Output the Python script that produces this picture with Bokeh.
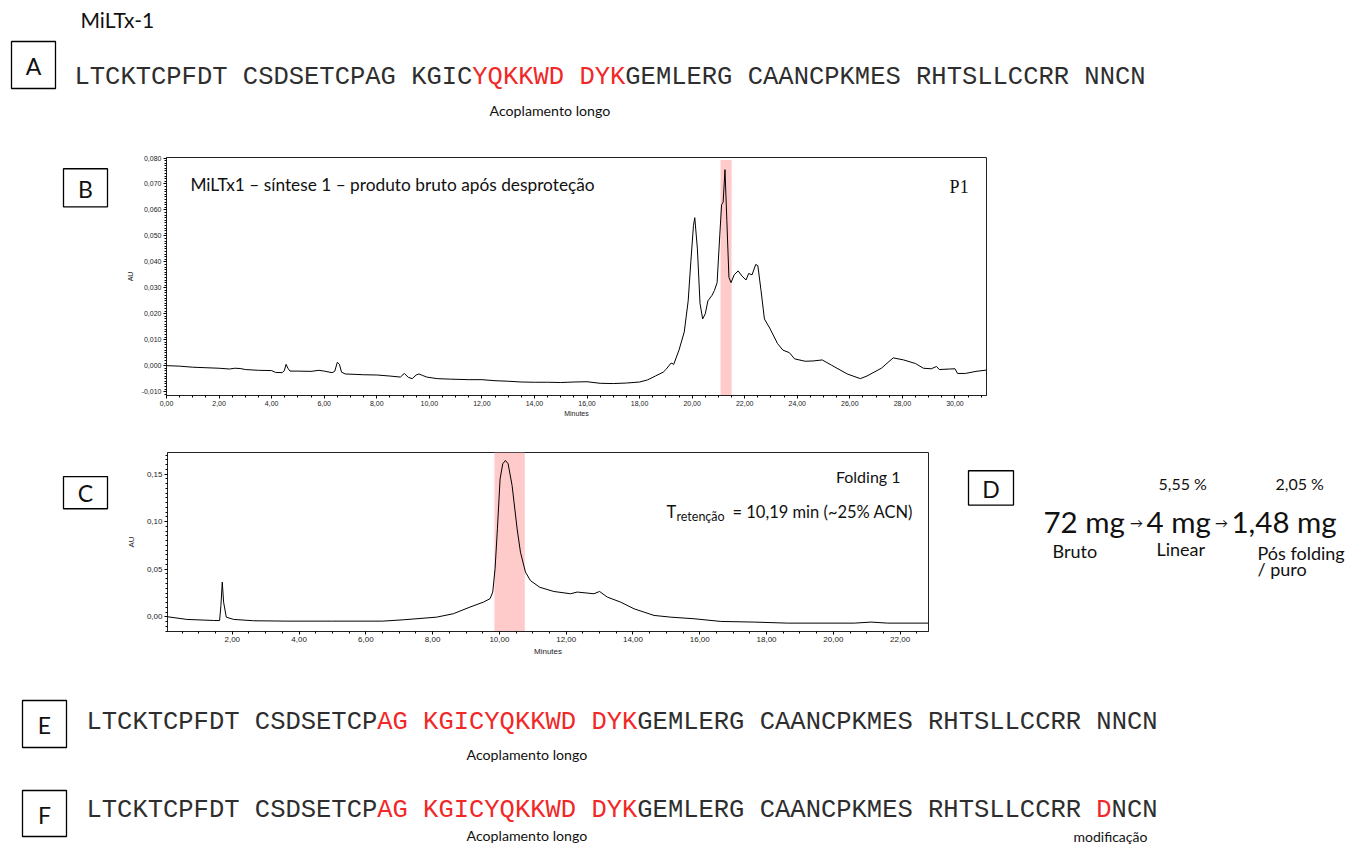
from bokeh.plotting import figure
from bokeh.layouts import column, row
from bokeh.models import (Range1d, BoxAnnotation, Label, FixedTicker,
                          CustomJSTickFormatter)
from bokeh.embed import file_html
from bokeh.resources import INLINE
from bokeh.core.properties import value
import numpy as np

# ---------------------------------------------------------------- data
seq_native = "LTCKTCPFDT CSDSETCPAG KGICYQKKWD DYKGEMLERG CAANCPKMES RHTSLLCCRR NNCN"
seq_modified = "LTCKTCPFDT CSDSETCPAG KGICYQKKWD DYKGEMLERG CAANCPKMES RHTSLLCCRR DNCN"
red_spans_A = [(26, 36)]
red_spans_E = [(19, 36)]
red_spans_F = [(19, 36), (66, 67)]

# crude product after deprotection (minutes, AU)
b_time = [0.0, 0.5, 1.0, 1.5, 2.0, 2.4, 2.6, 2.8, 3.0, 3.5, 4.0, 4.15, 4.4, 4.48,
          4.55, 4.62, 4.7, 5.0, 5.5, 5.8, 6.0, 6.3, 6.4, 6.5, 6.58, 6.66, 6.8,
          7.5, 8.0, 8.5, 8.9, 9.05, 9.2, 9.35, 9.5, 9.6, 9.75, 9.9, 10.3, 10.8,
          11.5, 12.0, 12.5, 13.0, 13.5, 14.0, 14.5, 15.0, 15.5, 16.0, 16.5, 17.0,
          17.5, 18.0, 18.3, 18.6, 18.9, 19.0, 19.2, 19.3, 19.5, 19.7, 19.85,
          19.95, 20.05, 20.1, 20.2, 20.3, 20.4, 20.5, 20.6, 20.75, 20.85, 20.95,
          21.05, 21.12, 21.18, 21.25, 21.32, 21.4, 21.48, 21.6, 21.75, 21.9,
          22.05, 22.15, 22.28, 22.42, 22.5, 22.62, 22.75, 22.95, 23.25, 23.45,
          23.7, 23.9, 24.3, 24.6, 24.95, 25.3, 25.9, 26.4, 26.65, 27.2, 27.65,
          28.05, 28.5, 28.8, 29.1, 29.3, 29.4, 29.8, 30.0, 30.1, 30.4, 30.8, 31.2]
b_au = [0.0000, -0.0002, -0.0006, -0.0008, -0.0010, -0.0013, -0.0010, -0.0011,
        -0.0015, -0.0018, -0.0019, -0.0026, -0.0027, -0.0020, 0.0005, -0.0010,
        -0.0021, -0.0021, -0.0022, -0.0018, -0.0021, -0.0027, -0.0022, 0.0013,
        0.0005, -0.0025, -0.0032, -0.0035, -0.0036, -0.0040, -0.0044, -0.0030,
        -0.0045, -0.0050, -0.0036, -0.0032, -0.0038, -0.0044, -0.0050, -0.0052,
        -0.0054, -0.0054, -0.0058, -0.0060, -0.0063, -0.0064, -0.0064, -0.0065,
        -0.0063, -0.0062, -0.0068, -0.0069, -0.0067, -0.0063, -0.0055, -0.0040,
        -0.0025, -0.0015, 0.0010, 0.0005, 0.0060, 0.0130, 0.0250, 0.0400, 0.0540,
        0.0570, 0.0450, 0.0240, 0.0180, 0.0200, 0.0250, 0.0270, 0.0290, 0.0320,
        0.0500, 0.0620, 0.0630, 0.0755, 0.0560, 0.0340, 0.0320, 0.0350, 0.0365,
        0.0345, 0.0330, 0.0355, 0.0350, 0.0390, 0.0385, 0.0290, 0.0180, 0.0145,
        0.0085, 0.0060, 0.0050, 0.0026, 0.0017, 0.0018, 0.0022, 0.0002, -0.0032,
        -0.0050, -0.0040, -0.0010, 0.0030, 0.0022, 0.0008, -0.0010, -0.0012,
        -0.0003, -0.0015, -0.0013, -0.0012, -0.0030, -0.0030, -0.0022, -0.0017]
b_band = (21.08, 21.50)

# folded product (minutes, AU)
c_time = [0.06, 0.64, 1.44, 1.62, 1.66, 1.70, 1.74, 1.82, 2.04, 2.64, 3.64, 5.0,
          6.5, 7.12, 8.12, 8.62, 9.12, 9.52, 9.72, 9.80, 9.87, 9.94, 10.02,
          10.10, 10.18, 10.26, 10.38, 10.53, 10.63, 10.78, 10.93, 11.21, 11.63,
          12.13, 12.33, 12.83, 13.0, 13.23, 13.63, 14.03, 14.63, 15.13, 15.83,
          16.63, 17.63, 18.63, 20.63, 21.13, 21.63, 22.85]
c_au = [0.0000, -0.0028, -0.0039, -0.0040, 0.0119, 0.0365, 0.0154, -0.0004,
        -0.0028, -0.0042, -0.0046, -0.0046, -0.0046, -0.0032, -0.0004, 0.0032,
        0.0102, 0.0154, 0.0190, 0.0260, 0.0505, 0.0925, 0.1450, 0.1609, 0.1644,
        0.1610, 0.1380, 0.0925, 0.0680, 0.0470, 0.0380, 0.0310, 0.0266, 0.0242,
        0.0260, 0.0242, 0.0266, 0.0207, 0.0154, 0.0084, 0.0014, -0.0004,
        -0.0021, -0.0049, -0.0056, -0.0067, -0.0067, -0.0056, -0.0067, -0.0067]
c_band = (9.85, 10.76)

yield_pct = ["5,55 %", "2,05 %"]
mass_steps = ["72 mg", "4 mg", "1,48 mg"]
step_names = ["Bruto", "Linear", "Pós folding", "/ puro"]

# ---------------------------------------------------------------- style
UI_FONT = "Lato"
SEQ_FONT = "Liberation Mono"
TICK_FONT = "Liberation Sans"
RED = "#f02828"
SEQ_SIZE = 25.5
CHAR_W = 0.6 * SEQ_SIZE
BAND = "#ffcaca"
INK = "#111111"


def canvas(w, h):
    p = figure(width=w, height=h, x_range=Range1d(0, w), y_range=Range1d(h, 0),
               x_axis_type=None, y_axis_type=None, output_backend="svg",
               toolbar_location=None, min_border=0)
    p.grid.visible = False
    p.outline_line_color = None
    return p


def put_text(p, x, y, txt, size, color=INK, font=UI_FONT, align="left"):
    p.text(x=[x], y=[y], text=[txt], text_font=value(font),
           text_font_size=f"{size}px", text_color=color,
           text_align=align, text_baseline="middle")


def letter_box(p, cx, cy, w, h, letter):
    p.rect(x=[cx], y=[cy], width=[w], height=[h], fill_color=None,
           line_color="black", line_width=1.3)
    put_text(p, cx, cy + 1, letter, 23, align="center")


def sequence(p, x0, y, seq, spans):
    colors = ["#2e2e2e"] * len(seq)
    for a, b in spans:
        for i in range(a, b):
            colors[i] = RED
    start = 0
    for i in range(1, len(seq) + 1):
        if i == len(seq) or colors[i] != colors[start]:
            put_text(p, x0 + start * CHAR_W, y, seq[start:i], SEQ_SIZE,
                     color=colors[start], font=SEQ_FONT)
            start = i


def chrom(width, height, xr, yr, left, right, top, bottom):
    p = figure(width=width, height=height, x_range=Range1d(*xr),
               y_range=Range1d(*yr), output_backend="svg", toolbar_location=None,
               min_border_left=left, min_border_right=right,
               min_border_top=top, min_border_bottom=bottom)
    p.grid.visible = False
    p.outline_line_color = "#222222"
    p.outline_line_width = 1
    for ax in (p.xaxis[0], p.yaxis[0]):
        ax.axis_line_color = "#222222"
        ax.major_tick_in = 0
        ax.major_tick_out = 3
        ax.minor_tick_in = 0
        ax.minor_tick_out = 2
        ax.major_label_text_font = TICK_FONT
        ax.major_label_text_color = "#222222"
        ax.axis_label_text_font = TICK_FONT
        ax.axis_label_text_font_style = "normal"
        ax.axis_label_text_color = "#222222"
        ax.major_label_standoff = 2
    return p


def comma_fmt(decimals):
    return CustomJSTickFormatter(
        code=f"return tick.toFixed({decimals}).replace('.', ',');")


def note(p, x, y, txt, size, align="left", font=UI_FONT):
    p.add_layout(Label(x=x, y=y, text=txt, text_font=font,
                       text_font_size=f"{size}px", text_color=INK,
                       text_baseline="middle", text_align=align))


# ---------------------------------------------------------------- panel A
top = canvas(1351, 150)
put_text(top, 80, 19, "MiLTx-1", 21)
letter_box(top, 33, 64.5, 44, 47, "A")
sequence(top, 74, 77, seq_native, red_spans_A)
put_text(top, 489, 110, "Acoplamento longo", 14.2)

# ---------------------------------------------------------------- panel B
b_left = canvas(110, 275)
letter_box(b_left, 85, 35, 44, 44, "B")

bx = (0.0, 31.2)
by = (-0.0115, 0.0802)
pb = chrom(1241, 275, bx, by, 56, 365, 7, 30)
pb.add_layout(BoxAnnotation(left=b_band[0], right=b_band[1], top=0.0792,
                            fill_color=BAND, fill_alpha=1, line_color=None,
                            level="underlay"))
pb.line(b_time, b_au, line_color="black", line_width=1)
pb.xaxis.ticker = FixedTicker(ticks=list(np.arange(0, 31, 2.0)),
                              minor_ticks=list(np.arange(0, 31.25, 0.5)))
pb.xaxis.formatter = comma_fmt(2)
pb.yaxis.ticker = FixedTicker(ticks=list(np.round(np.arange(-0.01, 0.0801, 0.01), 3)),
                              minor_ticks=list(np.round(np.arange(-0.011, 0.0801, 0.001), 4)))
pb.yaxis.formatter = comma_fmt(3)
for ax in (pb.xaxis[0], pb.yaxis[0]):
    ax.major_label_text_font_size = "7px"
    ax.axis_label_text_font_size = "7px"
pb.xaxis.axis_label = "Minutes"
pb.xaxis.axis_label_standoff = 1
pb.yaxis.axis_label = "AU"
pb.yaxis.axis_label_standoff = 5
note(pb, 0.91, 0.0698, "MiLTx1 – síntese 1 – produto bruto após desproteção", 17.3)
note(pb, 30.52, 0.0690, "P1", 18, align="right", font="Liberation Serif")

# ---------------------------------------------------------------- panel C
c_left = canvas(110, 245)
letter_box(c_left, 85, 55, 44, 44, "C")

cx = (0.06, 22.85)
cy = (-0.0155, 0.1728)
pc = chrom(840, 245, cx, cy, 57, 22, 27, 39)
pc.add_layout(BoxAnnotation(left=c_band[0], right=c_band[1], fill_color=BAND,
                            fill_alpha=1, line_color=None, level="underlay"))
pc.line(c_time, c_au, line_color="black", line_width=1)
pc.xaxis.ticker = FixedTicker(ticks=list(np.arange(2, 23, 2.0)),
                              minor_ticks=list(np.arange(0.5, 22.9, 0.5)))
pc.xaxis.formatter = comma_fmt(2)
pc.yaxis.ticker = FixedTicker(ticks=[0.0, 0.05, 0.10, 0.15],
                              minor_ticks=list(np.round(np.arange(-0.015, 0.1726, 0.005), 3)))
pc.yaxis.formatter = comma_fmt(2)
for ax in (pc.xaxis[0], pc.yaxis[0]):
    ax.major_label_text_font_size = "8px"
    ax.axis_label_text_font_size = "8px"
pc.xaxis.axis_label = "Minutes"
pc.xaxis.axis_label_standoff = 2
pc.yaxis.axis_label = "AU"
pc.yaxis.axis_label_standoff = 8

px_min = (cx[1] - cx[0]) / 761.0
px_au = (cy[1] - cy[0]) / 179.0
t_x0 = cx[0] + (666 - 167) * px_min
t_y0 = cy[1] - (511 - 452) * px_au
note(pc, cx[0] + (900 - 167) * px_min, cy[1] - (476 - 452) * px_au, "Folding 1", 16,
     align="right")
note(pc, t_x0, t_y0, "T", 16.5)
note(pc, t_x0 + 10 * px_min, t_y0 - 5 * px_au, "retenção", 12.5)
note(pc, t_x0 + 66 * px_min, t_y0, "= 10,19 min (~25% ACN)", 16.5)

# ---------------------------------------------------------------- panel D
pd_ = canvas(401, 245)
letter_box(pd_, 40.5, 48.5, 45, 47, "D")
put_text(pd_, 208, 43, yield_pct[0], 16)
put_text(pd_, 325, 43, yield_pct[1], 16)
put_text(pd_, 93, 95, mass_steps[0], 29.5)
put_text(pd_, 186, 96, "→", 13, align="center")
put_text(pd_, 196, 95, mass_steps[1], 29.5)
put_text(pd_, 271, 96, "→", 13, align="center")
put_text(pd_, 281, 95, mass_steps[2], 29.5)
put_text(pd_, 102, 135, step_names[0], 18)
put_text(pd_, 206, 132, step_names[1], 18)
put_text(pd_, 307, 138, step_names[2], 18)
put_text(pd_, 307, 160, step_names[3], 18)

# ---------------------------------------------------------------- panels E, F
bottom = canvas(1351, 176)
letter_box(bottom, 44, 53.5, 44, 47, "E")
sequence(bottom, 86, 52, seq_native, red_spans_E)
put_text(bottom, 466, 84, "Acoplamento longo", 14.2)
letter_box(bottom, 44, 143, 44, 46, "F")
sequence(bottom, 86, 140, seq_modified, red_spans_F)
put_text(bottom, 466, 165, "Acoplamento longo", 14.2)
put_text(bottom, 1073, 166, "modificação", 14)

layout = column(top, row(b_left, pb), row(c_left, pc, pd_), bottom)
open("out.html", "w").write(file_html(layout, INLINE))
